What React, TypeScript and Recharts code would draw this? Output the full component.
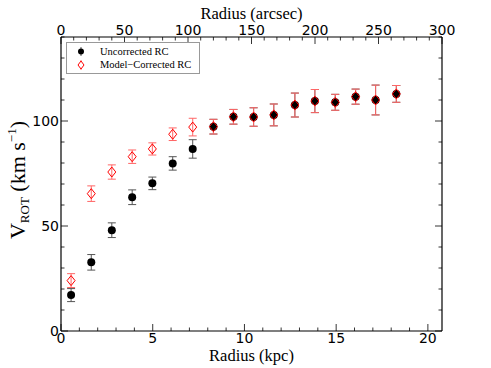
import React from 'react';
import { ScatterChart, Scatter, XAxis, YAxis, ErrorBar } from 'recharts';

const radiusKpc = [0.55, 1.65, 2.77, 3.88, 4.98, 6.09, 7.18, 8.31, 9.4, 10.5, 11.6, 12.75, 13.84, 14.95, 16.06, 17.15, 18.28];
const vUncorrected = [17.1, 32.7, 48, 63.7, 70.3, 79.8, 86.7, 97.3, 102, 101.9, 102.9, 107.6, 109.5, 108.9, 111.6, 110, 112.9];
const errUncorrected = [3.1, 3.7, 3.5, 3.5, 3.0, 3.2, 4.4, 3.5, 3.5, 4.4, 5.2, 5.7, 5.5, 3.8, 3.6, 7.1, 4.0];
const vCorrected = [24, 65.4, 75.7, 83, 86.7, 93.7, 97.1, 97.3, 102, 101.9, 102.9, 107.6, 109.5, 108.9, 111.6, 110, 112.9];
const errCorrected = [3.3, 3.7, 3.4, 3.2, 2.9, 3.0, 4.2, 3.5, 3.5, 4.4, 5.2, 5.7, 5.5, 3.8, 3.6, 7.1, 4.0];

const kpcTicks = Array.from({ length: 21 }, (_, i) => i);
const kpcMajor = [0, 5, 10, 15, 20];
const arcsecTicks = Array.from({ length: 31 }, (_, i) => i * 10);
const arcsecMajor = [0, 50, 100, 150, 200, 250, 300];
const vTicks = Array.from({ length: 15 }, (_, i) => i * 10);
const vMajor = [0, 50, 100];

const uncorrectedData = radiusKpc.map((r, i) => ({ r, v: vUncorrected[i], err: errUncorrected[i] }));
const correctedData = radiusKpc.map((r, i) => ({ r, v: vCorrected[i], err: errCorrected[i] }));

const SANS = 'DejaVu Sans, sans-serif';
const SERIF = 'Liberation Serif, serif';

// inward ticks, matplotlib style
const makeTick = (side: 'bottom' | 'top' | 'left' | 'right', majors: number[], showLabels: boolean) => (props: any) => {
    const { x, y, payload } = props;
    const major = majors.includes(payload.value);
    const len = major ? 7 : 3.5;
    let line;
    let label = null;
    if (side === 'bottom') {
        line = <line x1={x} x2={x} y1={y} y2={y - len} stroke="#000" strokeWidth={0.8} />;
        if (major && showLabels) label = <text x={x} y={y + 12} textAnchor="middle" fontSize={14} fontFamily={SANS}>{payload.value}</text>;
    } else if (side === 'top') {
        line = <line x1={x} x2={x} y1={y} y2={y + len} stroke="#000" strokeWidth={0.8} />;
        if (major && showLabels) label = <text x={x} y={y - 2} textAnchor="middle" fontSize={14} fontFamily={SANS}>{payload.value}</text>;
    } else if (side === 'left') {
        line = <line x1={x} x2={x + len} y1={y} y2={y} stroke="#000" strokeWidth={0.8} />;
        if (major && showLabels) label = <text x={x - 2} y={y + 5} textAnchor="end" fontSize={14} fontFamily={SANS}>{payload.value}</text>;
    } else {
        line = <line x1={x} x2={x - len} y1={y} y2={y} stroke="#000" strokeWidth={0.8} />;
    }
    return (
        <g>
            {line}
            {label}
        </g>
    );
};

const BlackDot = (props: any) => <circle cx={props.cx} cy={props.cy} r={4} fill="#000" />;
const RedDiamond = (props: any) => {
    const { cx, cy } = props;
    const s = 5;
    return <polygon points={`${cx},${cy - s} ${cx + s - 1},${cy} ${cx},${cy + s} ${cx - s + 1},${cy}`} fill="none" stroke="#ff0000" strokeWidth={1} />;
};
const NoShape = () => <g />;

const App: React.FC = () => {
    return (
        <div style={{ position: 'absolute', left: 0, top: 0, width: 491, height: 368, background: '#fff' }}>
            <ScatterChart width={491} height={368} margin={{ top: 0, right: 0, bottom: 0, left: 0 }}>
                <XAxis
                    xAxisId="kpc"
                    type="number"
                    dataKey="r"
                    domain={[0, 20.77]}
                    allowDataOverflow
                    ticks={kpcTicks}
                    interval={0}
                    height={37}
                    tickSize={0}
                    tickMargin={0}
                    tick={makeTick('bottom', kpcMajor, true)}
                    axisLine={{ stroke: '#000', strokeWidth: 1.2 }}
                    label={{
                        content: (p: any) => {
                            const vb = p.viewBox;
                            return (
                                <text x={vb.x + vb.width / 2} y={vb.y + 30} textAnchor="middle" fontFamily={SERIF} fontSize={16.5} fill="#000">
                                    Radius (kpc)
                                </text>
                            );
                        },
                    }}
                />
                <XAxis
                    xAxisId="arcsec"
                    orientation="top"
                    type="number"
                    dataKey="r"
                    domain={[0, 300]}
                    allowDataOverflow
                    ticks={arcsecTicks}
                    interval={0}
                    height={37}
                    tickSize={0}
                    tickMargin={0}
                    tick={makeTick('top', arcsecMajor, true)}
                    axisLine={{ stroke: '#000', strokeWidth: 1.2 }}
                    label={{
                        content: (p: any) => {
                            const vb = p.viewBox;
                            return (
                                <text x={vb.x + vb.width / 2} y={19} textAnchor="middle" fontFamily={SERIF} fontSize={16.5} fill="#000">
                                    Radius (arcsec)
                                </text>
                            );
                        },
                    }}
                />
                <YAxis
                    yAxisId="v"
                    type="number"
                    dataKey="v"
                    domain={[0, 140]}
                    allowDataOverflow
                    ticks={vTicks}
                    interval={0}
                    width={61}
                    tickSize={0}
                    tickMargin={0}
                    tick={makeTick('left', vMajor, true)}
                    axisLine={{ stroke: '#000', strokeWidth: 1.2 }}
                    label={{
                        content: (p: any) => {
                            const vb = p.viewBox;
                            const cx = 25;
                            const cy = vb.y + vb.height / 2 - 4;
                            return (
                                <text transform={`translate(${cx},${cy}) rotate(-90)`} textAnchor="middle" fontFamily={SERIF} fontSize={22} fill="#000">
                                    V<tspan fontSize={13} dy={4}>ROT</tspan>
                                    <tspan dy={-4}> (km s</tspan>
                                    <tspan fontSize={13} dy={-9}>−1</tspan>
                                    <tspan dy={9}>)</tspan>
                                </text>
                            );
                        },
                    }}
                />
                <YAxis
                    yAxisId="vr"
                    orientation="right"
                    type="number"
                    dataKey="v"
                    domain={[0, 140]}
                    allowDataOverflow
                    ticks={vTicks}
                    interval={0}
                    width={49}
                    tickSize={0}
                    tickMargin={0}
                    tick={makeTick('right', vMajor, false)}
                    axisLine={{ stroke: '#000', strokeWidth: 1.2 }}
                />
                {/* invisible series so the top and right axes get their ticks */}
                <Scatter data={uncorrectedData} dataKey="v" xAxisId="arcsec" yAxisId="vr" shape={NoShape} legendType="none" isAnimationActive={false} />
                <Scatter name="Uncorrected RC" data={uncorrectedData} dataKey="v" xAxisId="kpc" yAxisId="v" shape={BlackDot} isAnimationActive={false}>
                    <ErrorBar dataKey="err" direction="y" width={4} stroke="#555" strokeWidth={1} />
                </Scatter>
                <Scatter name="Model-Corrected RC" data={correctedData} dataKey="v" xAxisId="kpc" yAxisId="v" shape={RedDiamond} isAnimationActive={false}>
                    <ErrorBar dataKey="err" direction="y" width={4} stroke="#ff6666" strokeWidth={1} />
                </Scatter>
            </ScatterChart>
            {/* legend */}
            <div
                style={{
                    position: 'absolute',
                    left: 66,
                    top: 42,
                    width: 132,
                    height: 30,
                    border: '1px solid #999',
                    background: '#fff',
                }}
            >
                <svg width={132} height={30} style={{ position: 'absolute', left: 0, top: 0 }}>
                    <line x1={14} x2={14} y1={4} y2={13} stroke="#555" />
                    <circle cx={14} cy={8.5} r={3} fill="#000" />
                    <line x1={14} x2={14} y1={17} y2={27} stroke="#ff6666" />
                    <polygon points="14,18 17,22 14,26 11,22" fill="#fff" stroke="#ff0000" />
                    <text x={33} y={12} fontSize={10.5} fontFamily={SERIF}>Uncorrected RC</text>
                    <text x={33} y={25} fontSize={10.5} fontFamily={SERIF}>Model−Corrected RC</text>
                </svg>
            </div>
        </div>
    );
};

export default App;
